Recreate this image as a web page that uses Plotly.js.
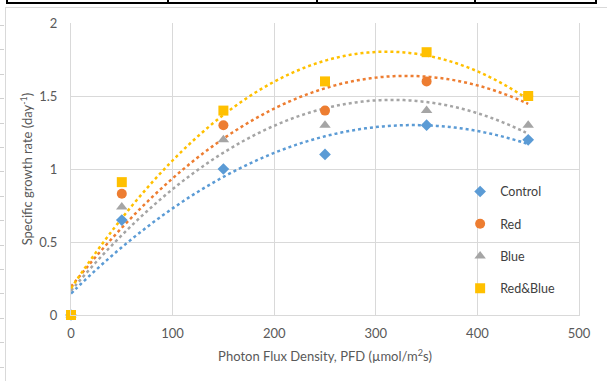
<!DOCTYPE html>
<html>
<head>
<meta charset="utf-8">
<script src="https://cdn.plot.ly/plotly-3.0.1.min.js"></script>
<style>
  html, body { margin: 0; padding: 0; background: #ffffff; }
  #wrap { position: relative; width: 607px; height: 381px; overflow: hidden; }
  #chart { position: absolute; left: 0; top: 0; width: 607px; height: 381px; }
  .deco { position: absolute; pointer-events: none; }
</style>
</head>
<body>
<div id="wrap">
  <div id="chart"></div>
</div>
<script>
// ---- data ----
const pfd = [0, 50, 150, 250, 350, 450];
const seriesNames = ["Control", "Red", "Blue", "Red&Blue"];
const control  = [0, 0.65, 1.0, 1.1, 1.3, 1.2];
const red      = [0, 0.83, 1.3, 1.4, 1.6, 1.5];
const blue     = [0, 0.74, 1.2, 1.3, 1.4, 1.3];
const redBlue  = [0, 0.91, 1.4, 1.6, 1.8, 1.5];
const xTicks = [0, 100, 200, 300, 400, 500];
const yTicks = [0, 0.5, 1, 1.5, 2];

// ---- styles ----
const colors  = ["#5B9BD5", "#ED7D31", "#A5A5A5", "#FFC000"];
const symbols = ["diamond", "circle", "triangle-up", "square"];
const sizes   = [9, 10, 10, 10];
const allY = [control, red, blue, redBlue];

// Excel-style polynomial (order 2) trendline: least-squares fit of the data
function polyFit2(xs, ys) {
  let n = xs.length, s = [0,0,0,0,0], t = [0,0,0];
  for (let i = 0; i < n; i++) {
    const x = xs[i], y = ys[i];
    let p = 1;
    for (let k = 0; k < 5; k++) { s[k] += p; if (k < 3) t[k] += p * y; p *= x; }
  }
  const A = [[s[0],s[1],s[2],t[0]],[s[1],s[2],s[3],t[1]],[s[2],s[3],s[4],t[2]]];
  for (let i = 0; i < 3; i++) {
    let m = i;
    for (let r = i+1; r < 3; r++) if (Math.abs(A[r][i]) > Math.abs(A[m][i])) m = r;
    [A[i], A[m]] = [A[m], A[i]];
    for (let r = 0; r < 3; r++) {
      if (r === i) continue;
      const f = A[r][i] / A[i][i];
      for (let c = i; c < 4; c++) A[r][c] -= f * A[i][c];
    }
  }
  return [A[0][3]/A[0][0], A[1][3]/A[1][1], A[2][3]/A[2][2]];
}

const traces = [];
allY.forEach((ys, i) => {
  const c = polyFit2(pfd, ys);
  const xs = [], yv = [];
  const x0 = pfd[0], x1 = pfd[pfd.length-1];
  for (let k = 0; k <= 90; k++) {
    const x = x0 + (x1 - x0) * k / 90;
    xs.push(x); yv.push(c[0] + c[1]*x + c[2]*x*x);
  }
  traces.push({
    x: xs, y: yv, type: "scatter", mode: "lines",
    line: { color: colors[i], width: 2.5, dash: "dot", shape: "spline" },
    showlegend: false, hoverinfo: "skip"
  });
});
allY.forEach((ys, i) => {
  traces.push({
    x: pfd, y: ys, type: "scatter", mode: "markers", name: seriesNames[i],
    legendgroup: "g" + i, cliponaxis: false,
    marker: { color: colors[i], symbol: symbols[i], size: sizes[i], line: { width: 0 } }
  });
});

const fontFam = "Lato, 'Open Sans', sans-serif";
const layout = {
  width: 607, height: 381,
  margin: { l: 71, r: 28, t: 23, b: 66 },
  paper_bgcolor: "rgba(0,0,0,0)",
  plot_bgcolor: "#ffffff",
  font: { family: fontFam, size: 13, color: "#595959" },
  showlegend: true,
  legend: {
    x: 0.766, xanchor: "left", y: 0.473, yanchor: "top",
    bgcolor: "rgba(0,0,0,0)",
    font: { family: fontFam, size: 12.5, color: "#404040" },
    traceorder: "grouped", tracegroupgap: 13,
    itemwidth: 30
  },
  xaxis: {
    range: [0, 500], tickvals: xTicks, ticktext: xTicks.map(String),
    showgrid: true, gridcolor: "#d9d9d9", gridwidth: 1,
    zeroline: false, showline: true, linecolor: "#d9d9d9", linewidth: 1,
    ticks: "", ticklabelstandoff: 6,
    tickfont: { family: fontFam, size: 13, color: "#595959" },
    title: { text: "Photon Flux Density, PFD (µmol/m<sup>2</sup>s)", standoff: 12,
             font: { family: fontFam, size: 13, color: "#595959" } },
    fixedrange: true
  },
  yaxis: {
    range: [0, 2], tickvals: yTicks, ticktext: yTicks.map(String),
    showgrid: true, gridcolor: "#d9d9d9", gridwidth: 1,
    zeroline: false, showline: true, linecolor: "#d9d9d9", linewidth: 1,
    mirror: true,
    ticks: "", ticklabelstandoff: 10,
    tickfont: { family: fontFam, size: 13, color: "#595959" },
    title: { text: "Specific growth rate (day<sup>-1</sup>)", standoff: 3,
             font: { family: fontFam, size: 13, color: "#595959" } },
    fixedrange: true
  }
};

Plotly.newPlot("chart", traces, layout, { staticPlot: true, displayModeBar: false }).then(() => {
  const wrap = document.getElementById("wrap");
  function box(l, t, w, h, color) {
    const d = document.createElement("div");
    d.className = "deco";
    d.style.left = l + "px"; d.style.top = t + "px";
    d.style.width = w + "px"; d.style.height = h + "px";
    d.style.background = color;
    wrap.appendChild(d);
  }
  box(6, 2, 591, 2, "#000000");
  [6, 167, 316, 474, 595].forEach(x => box(x, 0, 2, 4, "#000000"));
  box(5, 7, 602, 1, "#d9d9d9");
  box(5, 7, 1, 374, "#d9d9d9");
  for (let y = 25; y < 381; y += 24.4) box(0, Math.round(y), 4, 1, "#d0d0d0");
});
</script>
</body>
</html>
